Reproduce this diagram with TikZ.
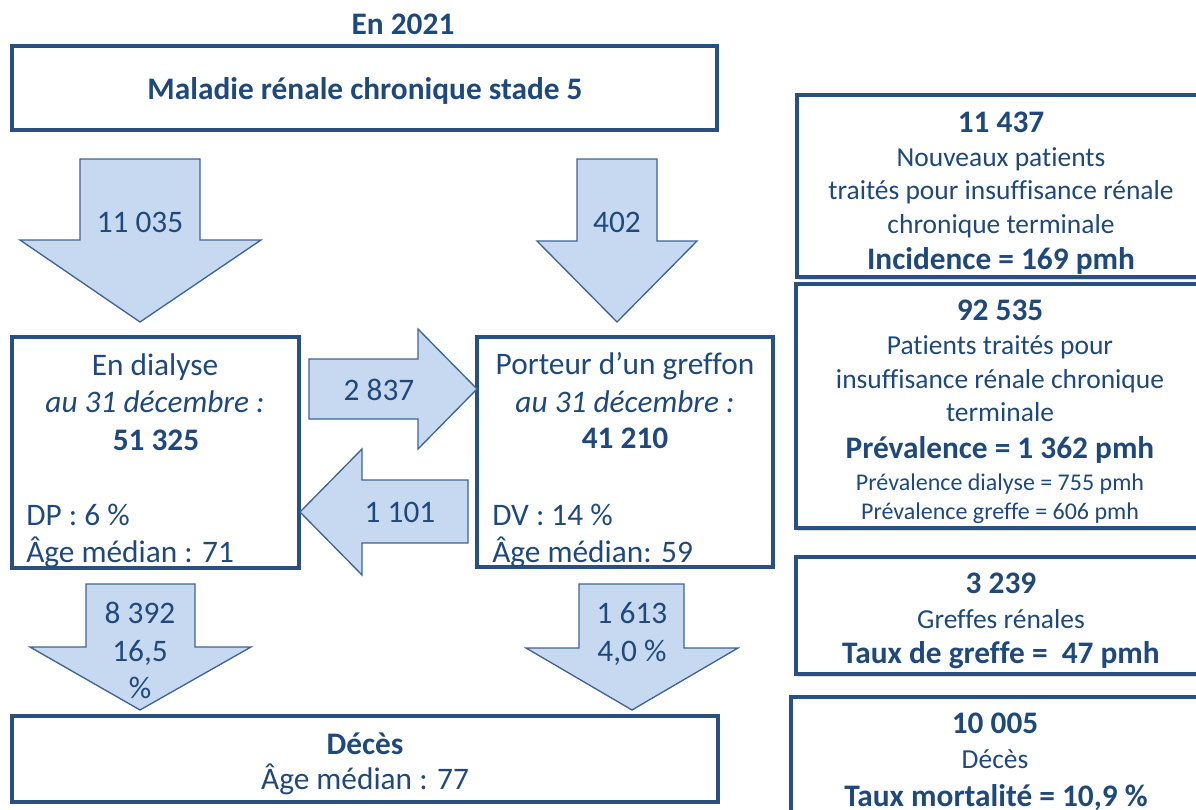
\documentclass[tikz,border=0pt]{standalone}
\usepackage{fontspec}
\setmainfont{Carlito}[Ligatures=NoCommon]
\usepackage{tikz}
\usetikzlibrary{fit,shadows}

\definecolor{txtblue}{HTML}{1F497D}
\definecolor{lineblue}{HTML}{2A5082}
\definecolor{arrowfill}{HTML}{C6D9F1}
\definecolor{arrowline}{HTML}{3D6496}

\begin{document}
\begin{tikzpicture}[x=0.75pt, y=-0.75pt,
    frame/.style={draw=lineblue, line width=2.3pt, inner sep=0pt},
    sideframe/.style={frame, fill=white, drop shadow={opacity=0.3, shadow xshift=1.5pt, shadow yshift=-2pt}},
    bigarrow/.style={draw=arrowline, fill=arrowfill, line width=1pt, line join=miter},
    txt/.style={text=txtblue, anchor=base, inner sep=0pt, font=\fontsize{23.5}{28}\selectfont},
    bold/.style={txt, font=\fontsize{23.5}{28}\selectfont\bfseries},
    ital/.style={txt, font=\fontsize{23.5}{28}\selectfont\itshape},
    side/.style={txt, font=\fontsize{20.6}{25}\selectfont},
    small/.style={txt, font=\fontsize{18}{22}\selectfont}]

    \useasboundingbox (0,0) rectangle (1196,810);
    \clip (0,0) rectangle (1196,810);

    % Boxes
    \node [bold] (year) at (403,34) {En 2021};
    \node [frame, fit={(12,46) (717,130)}] (stage) {};
    \node [bold] (stagetxt) at (365,99) {Maladie rénale chronique stade 5};

    \node [frame, fit={(12,337) (299,568)}] (dial) {};
    \node [frame, fit={(477,337) (773,567)}] (graft) {};
    \node [frame, fit={(12,716) (718,802)}] (deaths) {};

    % Arrows
    \draw [bigarrow] (80,159) -- (200,159) -- (200,240) -- (261,240) -- (140,322) -- (20,240) -- (80,240) -- cycle;
    \draw [bigarrow] (577,159) -- (657,159) -- (657,241) -- (697,241) -- (617,322) -- (537,241) -- (577,241) -- cycle;
    \draw [bigarrow] (309,359) -- (418,359) -- (418,329) -- (477,389) -- (418,449) -- (418,419) -- (309,419) -- cycle;
    \draw [bigarrow] (468,480) -- (362,480) -- (362,449) -- (300,512) -- (362,575) -- (362,543) -- (468,543) -- cycle;
    \draw [bigarrow] (86,584) -- (195,584) -- (195,647) -- (251,647) -- (140,710) -- (30,647) -- (86,647) -- cycle;
    \draw [bigarrow] (579,584) -- (684,584) -- (684,648) -- (738,648) -- (632,710) -- (526,648) -- (579,648) -- cycle;

    % Arrow labels
    \node [txt] (newdial) at (140,232) {11 035};
    \node [txt] (newgraft) at (617,232) {402};
    \node [txt] (togo) at (379,400) {2 837};
    \node [txt] (back) at (400,522) {1 101};
    \node [txt] (dialdeadA) at (140,623) {8 392};
    \node [txt] (dialdeadB) at (140,661) {16,5};
    \node [txt] (dialdeadC) at (140,698) {\%};
    \node [txt] (graftdeadA) at (632,623) {1 613};
    \node [txt] (graftdeadB) at (632,661) {4,0 \%};

    % Dialysis box
    \node [txt] (dialA) at (155,375) {En dialyse};
    \node [ital] (dialB) at (155,412) {au 31 décembre :};
    \node [bold] (dialC) at (156,450) {51 325};
    \node [txt, anchor=base west] (dialD) at (26,525) {DP : 6 \%};
    \node [txt, anchor=base west] (dialE) at (26,562) {Âge médian : 71};

    % Graft box
    \node [txt] (graftA) at (625,374) {Porteur d’un greffon};
    \node [ital] (graftB) at (625,412) {au 31 décembre :};
    \node [bold] (graftC) at (625,448) {41 210};
    \node [txt, anchor=base west] (graftD) at (492,525) {DV : 14 \%};
    \node [txt, anchor=base west] (graftE) at (492,562) {Âge médian: 59};

    % Deaths box
    \node [bold] (deathsA) at (365,754) {Décès};
    \node [txt] (deathsB) at (365,789) {Âge médian : 77};

    % Side boxes
    \node [sideframe, fit={(797,95) (1215,277)}] (inc) {};
    \node [sideframe, fit={(796,284) (1215,528)}] (prev) {};
    \node [sideframe, fit={(796,557) (1215,674)}] (tx) {};
    \node [sideframe, fit={(791,697) (1215,830)}] (mort) {};

    \node [bold] (incA) at (1001,132) {11 437};
    \node [side] (incB) at (1001,166) {Nouveaux patients};
    \node [side] (incC) at (1001,199) {traités pour insuffisance rénale};
    \node [side] (incD) at (1001,233) {chronique terminale};
    \node [bold] (incE) at (1001,269) {Incidence = 169 pmh};

    \node [bold] (prevA) at (1000,320) {92 535};
    \node [side] (prevB) at (1000,354) {Patients traités pour};
    \node [side] (prevC) at (1000,388) {insuffisance rénale chronique};
    \node [side] (prevD) at (1000,421) {terminale};
    \node [bold] (prevE) at (1000,458) {Prévalence = 1 362 pmh};
    \node [small] (prevF) at (1000,490) {Prévalence dialyse = 755 pmh};
    \node [small] (prevG) at (1000,519) {Prévalence greffe = 606 pmh};

    \node [bold] (txA) at (1001,593) {3 239};
    \node [side] (txB) at (1001,628) {Greffes rénales};
    \node [bold] (txC) at (1001,663) {Taux de greffe =~ 47 pmh};

    \node [bold] (mortA) at (995,733) {10 005};
    \node [side] (mortB) at (995,768) {Décès};
    \node [bold] (mortC) at (996,806) {Taux mortalité = 10,9 \%};

\end{tikzpicture}
\end{document}
